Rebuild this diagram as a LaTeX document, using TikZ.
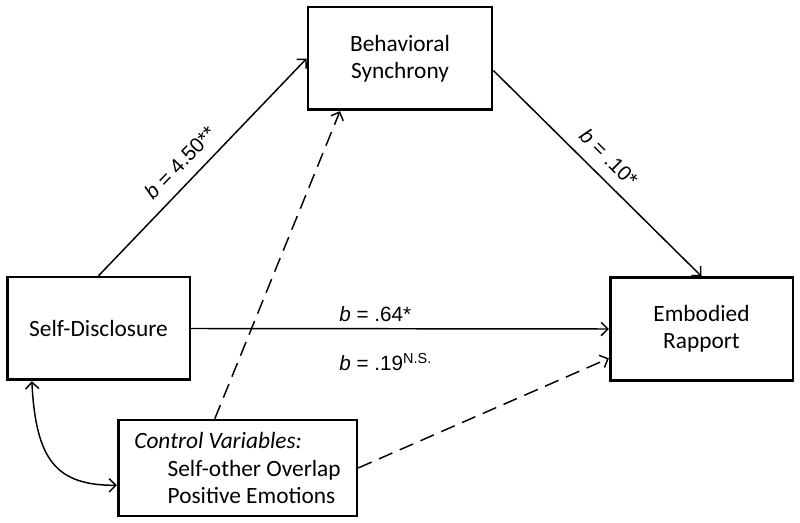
\documentclass[tikz,border=0pt]{standalone}
\usepackage{fontspec}
\setmainfont{Carlito}
\newfontfamily\arialfont{Liberation Sans}
\usetikzlibrary{arrows.meta}

\begin{document}
\begin{tikzpicture}[x=0.75pt, y=-0.75pt,
  >={Straight Barb[length=5pt, width=10pt]},
  varbox/.style={draw, line width=2pt, align=center, font=\fontsize{17.5}{20.5}\selectfont},
  link/.style={line width=1.1pt, ->},
  ctrl/.style={link, dash pattern=on 11pt off 6pt},
  coef/.style={font=\arialfont\fontsize{15.5}{18}\selectfont}]
\useasboundingbox (0,0) rectangle (800,523);
\node[varbox, minimum width=138pt, minimum height=77pt] (bs) at (400,58.5) {Behavioral\\Synchrony};
\node[varbox, minimum width=137pt, minimum height=77pt] (sd) at (98.5,328.5) {Self-Disclosure};
\node[varbox, minimum width=137pt, minimum height=77pt] (er) at (701.5,329) {Embodied\\Rapport};
\node[varbox, align=left, minimum width=179pt, minimum height=72pt] (cv) at (237.5,468)
  {\textit{Control Variables:}\\\hspace*{25pt}Self-other Overlap\\\hspace*{25pt}Positive Emotions};
% paths
\draw[link] (sd.north) -- (bs.west)
  node[coef, sloped, above=5pt, pos=0.46] (b1) {\textit{b} = 4.50**};
\draw[link] ([yshift=-9pt]bs.east) -- (er.north)
  node[coef, sloped, above=5pt, pos=0.49] (b2) {\textit{b} = .10*};
\draw[link] (sd.east) -- (er.west)
  node[coef, pos=0.35, anchor=south west, inner sep=1pt, yshift=4pt] (b3) {\textit{b} = .64*}
  node[coef, pos=0.35, anchor=north west, inner sep=1pt, yshift=-17pt] (b4) {\textit{b} = .19\textsuperscript{N.S.}};
\draw[ctrl] ([xshift=-17pt]cv.north) -- ([xshift=-45pt]bs.south);
\draw[ctrl] (cv.east) -- ([yshift=-22pt]er.west);
\draw[link, <->] ([xshift=-50pt]sd.south) .. controls +(4,80) and +(-60,0) .. ([yshift=-13pt]cv.west);
\end{tikzpicture}
\end{document}
